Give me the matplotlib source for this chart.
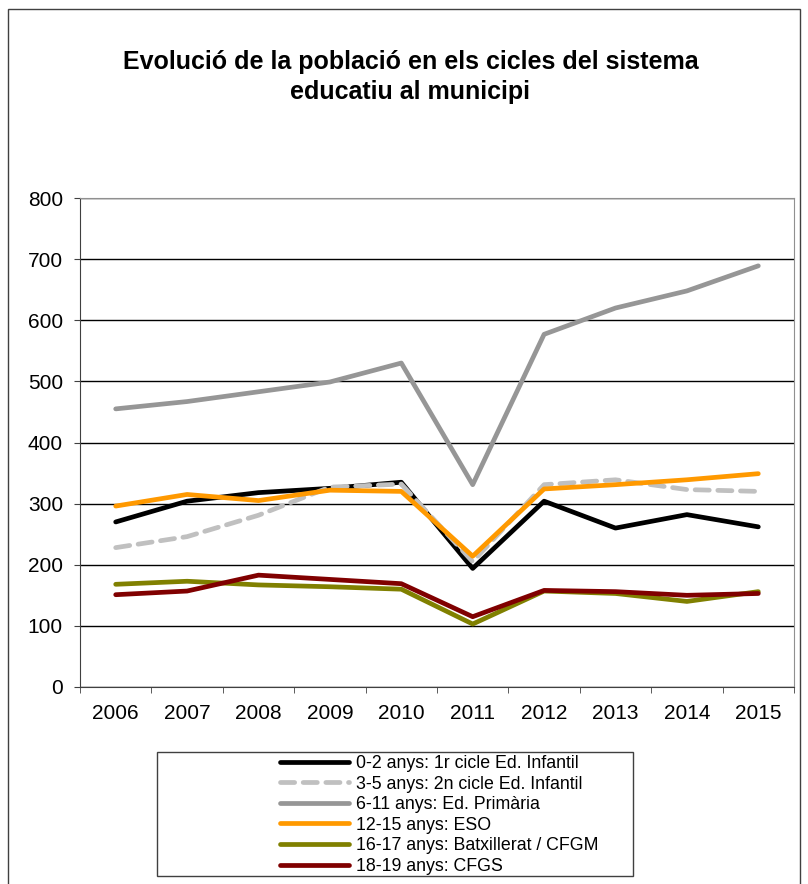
import numpy as np
import matplotlib
matplotlib.use("Agg")
import matplotlib.pyplot as plt
from matplotlib.patches import Rectangle

plt.rcParams['font.family'] = ['Liberation Sans', 'DejaVu Sans']

years = ["2006", "2007", "2008", "2009", "2010", "2011", "2012", "2013", "2014", "2015"]
infantil_1 = [270, 304, 318, 325, 335, 194, 304, 260, 282, 262]
infantil_2 = [228, 246, 281, 327, 332, 205, 331, 339, 323, 320]
primaria = [455, 467, 483, 499, 530, 331, 577, 620, 648, 689]
eso = [296, 315, 305, 322, 320, 214, 324, 331, 339, 349]
batx = [168, 173, 167, 164, 160, 103, 157, 153, 140, 156]
cfgs = [151, 157, 183, 176, 169, 115, 158, 156, 150, 153]

labels = ["0-2 anys: 1r cicle Ed. Infantil",
          "3-5 anys: 2n cicle Ed. Infantil",
          "6-11 anys: Ed. Primària",
          "12-15 anys: ESO",
          "16-17 anys: Batxillerat / CFGM",
          "18-19 anys: CFGS"]

W, H = 808, 884
fig = plt.figure(figsize=(W / 100, H / 100), dpi=100)
ax = fig.add_axes([80 / W, 1 - 687 / H, (794 - 80) / W, (687 - 198) / H])

x = np.arange(1, len(years) + 1)
lw = 3.4
ax.plot(x, infantil_1, color='#000000', lw=lw, label=labels[0], solid_capstyle='round')
ax.plot(x, infantil_2, color='#C0C0C0', lw=lw, label=labels[1], dashes=(3.0, 1.8),
        dash_capstyle='round')
ax.plot(x, primaria, color='#969696', lw=lw, label=labels[2], solid_capstyle='round')
ax.plot(x, eso, color='#FF9900', lw=lw, label=labels[3], solid_capstyle='round')
ax.plot(x, batx, color='#808000', lw=lw, label=labels[4], solid_capstyle='round')
ax.plot(x, cfgs, color='#800000', lw=lw, label=labels[5], solid_capstyle='round')

ax.set_xlim(0.5, len(years) + 0.5)
ax.set_ylim(0, 800)
ax.set_yticks(np.arange(0, 801, 100))
ax.set_xticks(x)
ax.set_xticklabels(years)
ax.set_xticks(np.arange(0.5, len(years) + 1, 1), minor=True)
ax.tick_params(axis='x', which='major', length=0, pad=12, labelsize=15)
ax.tick_params(axis='x', which='minor', length=4.3, direction='out', color='#404040')
ax.tick_params(axis='y', length=4.3, direction='out', color='#404040', labelsize=15, pad=8)
ax.yaxis.grid(True, color='#000000', lw=1)
ax.set_axisbelow(True)
for side in ['left', 'bottom']:
    ax.spines[side].set_color('#404040')
for side in ['top', 'right']:
    ax.spines[side].set_color('#909090')

fig.text(0.508, 1 - 77 / H,
         "Evolució de la població en els cicles del sistema\neducatiu al municipi",
         ha='center', va='center', fontsize=18, fontweight='bold', linespacing=1.3)

# outer chart border
fig.patches.append(Rectangle((8 / W, -0.05), (800 - 8) / W, 1.05 - 9 / H,
                             transform=fig.transFigure, fill=False,
                             edgecolor='#404040', lw=1))
# legend box
fig.patches.append(Rectangle((157 / W, 1 - 876 / H), (633 - 157) / W, (876 - 752) / H,
                             transform=fig.transFigure, fill=False,
                             edgecolor='#404040', lw=1))

handles, lbls = ax.get_legend_handles_labels()
fig.legend(handles, lbls, loc='upper left', bbox_to_anchor=(280 / W, 1 - 755 / H),
           frameon=False, fontsize=12.8, handlelength=3.9, handletextpad=0.4,
           labelspacing=0.2, borderpad=0, borderaxespad=0)

fig.savefig("out.png", dpi=100)
